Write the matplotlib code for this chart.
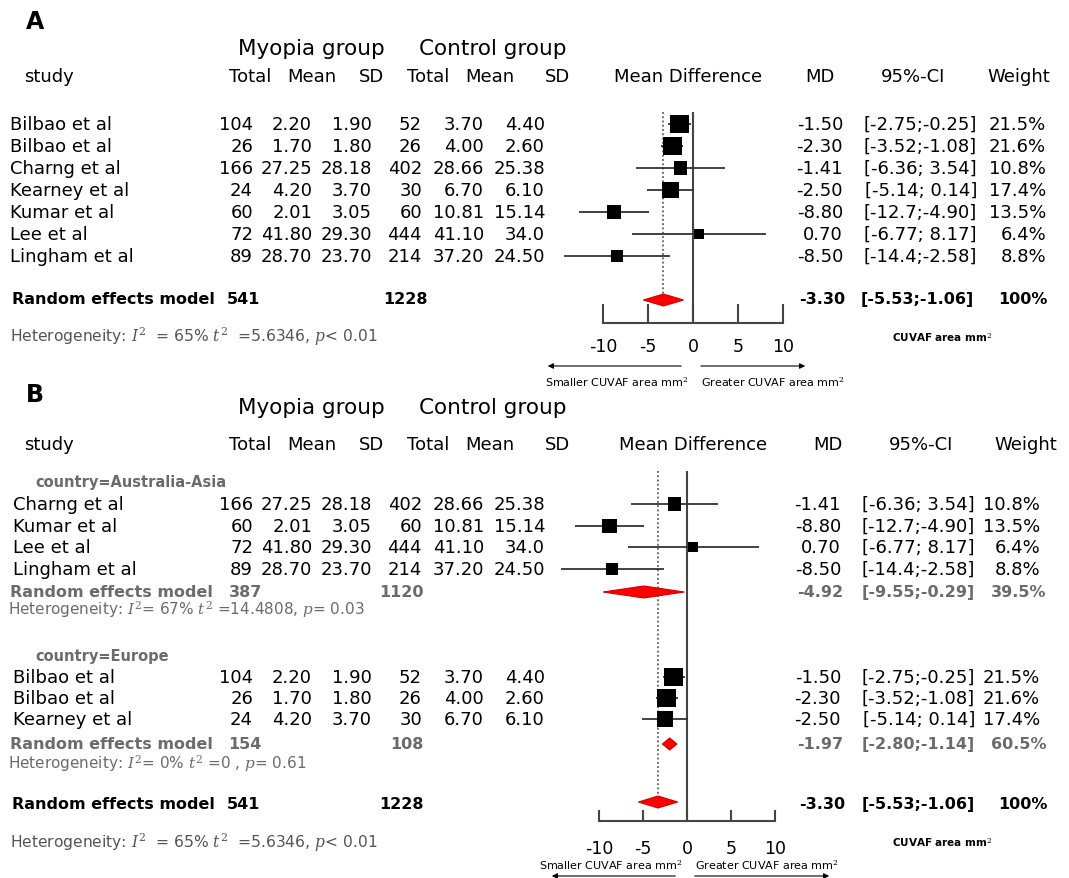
import matplotlib
matplotlib.use("Agg")
import matplotlib.pyplot as plt
from matplotlib.patches import Polygon

W, H, DPI = 1069, 879, 100
plt.rcParams['font.family'] = ['DejaVu Sans']
plt.rcParams['mathtext.fontset'] = 'dejavuserif'

# ---------------- data ----------------
studies = ["Bilbao et al", "Bilbao et al", "Charng et al", "Kearney et al",
           "Kumar et al", "Lee et al", "Lingham et al"]
country = ["Europe", "Europe", "Australia-Asia", "Europe",
           "Australia-Asia", "Australia-Asia", "Australia-Asia"]
myo_total = ["104", "26", "166", "24", "60", "72", "89"]
myo_mean = ["2.20", "1.70", "27.25", "4.20", "2.01", "41.80", "28.70"]
myo_sd = ["1.90", "1.80", "28.18", "3.70", "3.05", "29.30", "23.70"]
ctl_total = ["52", "26", "402", "30", "60", "444", "214"]
ctl_mean = ["3.70", "4.00", "28.66", "6.70", "10.81", "41.10", "37.20"]
ctl_sd = ["4.40", "2.60", "25.38", "6.10", "15.14", "34.0", "24.50"]
md = [-1.50, -2.30, -1.41, -2.50, -8.80, 0.70, -8.50]
ci_lo = [-2.75, -3.52, -6.36, -5.14, -12.7, -6.77, -14.4]
ci_hi = [-0.25, -1.08, 3.54, 0.14, -4.90, 8.17, -2.58]
weight = [21.5, 21.6, 10.8, 17.4, 13.5, 6.4, 8.8]

sub_names = ["Australia-Asia", "Europe"]
sub_n1 = ["387", "154"]
sub_n2 = ["1120", "108"]
sub_md = [-4.92, -1.97]
sub_lo = [-9.55, -2.80]
sub_hi = [-0.29, -1.14]
sub_weight = ["39.5%", "60.5%"]
sub_i2 = ["67%", "0%"]
sub_tau2 = ["14.4808", "0 "]
sub_p = ["= 0.03", "= 0.61"]

all_n1, all_n2 = "541", "1228"
all_md, all_lo, all_hi = -3.30, -5.53, -1.06
all_weight = "100%"
all_i2, all_tau2, all_p = "65%", "5.6346", "< 0.01"

x_ticks = [-10, -5, 0, 5, 10]
axis_label = "CUVAF area mm$^2$"
left_label = "Smaller CUVAF area mm$^2$"
right_label = "Greater CUVAF area mm$^2$"


def fmt_ci(v):
    s = f"{v:.2f}"
    if len(s.lstrip('-')) > 4:
        s = f"{v:.1f}"
    return s if v < 0 else " " + s


def ci_text(lo, hi):
    return f"[{fmt_ci(lo)};{fmt_ci(hi)}]"


# ---------------- figure ----------------
fig = plt.figure(figsize=(W / DPI, H / DPI), dpi=DPI)
bg = fig.add_axes([0, 0, 1, 1])
bg.set_xlim(0, W)
bg.set_ylim(H, 0)
bg.axis('off')

GRAY_HET = '#555555'
GRAY_SUB = '#6b6b6b'
ROW_FS = 13
HDR_FS = 13
SUM_FS = 11.5


def txt(x, y, s, ha='left', size=ROW_FS, weight='normal', color='black'):
    bg.text(x, y, s, ha=ha, va='center', fontsize=size, fontweight=weight, color=color)


def forest_ax(zero_px, ppu):
    ax = fig.add_axes([0, 0, 1, 1], frameon=False)
    ax.set_xlim((0 - zero_px) / ppu, (W - zero_px) / ppu)
    ax.set_ylim(H, 0)
    ax.axis('off')
    return ax


def headers(y_group, y_hdr, rc):
    txt(311, y_group, "Myopia group", ha='center', size=15.5)
    txt(493, y_group, "Control group", ha='center', size=15.5)
    txt(24, y_hdr, "study", size=HDR_FS)
    for x, s in zip([271, 336, 384, 449, 514, 570],
                    ["Total", "Mean", "SD", "Total", "Mean", "SD"]):
        txt(x, y_hdr, s, ha='right', size=HDR_FS)
    txt(rc['mdh'], y_hdr, "Mean Difference", ha='center', size=HDR_FS)
    txt(rc['mdc'], y_hdr, "MD", ha='center', size=HDR_FS)
    txt(rc['cic'], y_hdr, "95%-CI", ha='center', size=HDR_FS)
    txt(rc['wr_h'], y_hdr, "Weight", ha='right', size=HDR_FS)


COLS = [253, 312, 372, 422, 484, 545]


def study_row(i, y, x_name, rc):
    txt(x_name, y, studies[i])
    for x, col in zip(COLS, [myo_total, myo_mean, myo_sd, ctl_total, ctl_mean, ctl_sd]):
        txt(x, y, col[i], ha='right')
    txt(rc['mdr'], y, f"{md[i]:.2f}", ha='right')
    txt(rc['cir'], y, ci_text(ci_lo[i], ci_hi[i]), ha='right')
    txt(rc['wr'], y, f"{weight[i]:.1f}%", ha='right')


def draw_study_marks(ax, idx, ys):
    ax.hlines(ys, [ci_lo[i] for i in idx], [ci_hi[i] for i in idx],
              color='#333333', lw=1.3, zorder=2)
    ax.scatter([md[i] for i in idx], ys, s=[8.4 * weight[i] for i in idx],
               marker='s', color='black', zorder=3, linewidths=0)


def diamond(ax, m, lo, hi, y, h=6):
    ax.add_patch(Polygon([[lo, y], [m, y - h], [hi, y], [m, y + h]],
                         closed=True, fc='red', ec='#d00000', lw=0.8, zorder=4))


def axis_block(ax, top, base, tick_len, lab_y, diam_y):
    ax.vlines(0, top, base, color='#444444', lw=1.5, zorder=1)
    ax.vlines(all_md, top, diam_y - 6, color='#444444', lw=1.1,
              linestyles=(0, (1.2, 1.6)), zorder=1)
    ax.plot([x_ticks[0], x_ticks[-1]], [base, base], color='#444444', lw=1.5)
    ax.vlines(x_ticks, base - tick_len, base, color='#444444', lw=1.5)
    for t in x_ticks:
        ax.text(t, lab_y, str(t), ha='center', va='center', fontsize=12.5)


def arrows(y_arrow, y_text, lx, rx, zero_px):
    kw = dict(arrowstyle='-|>', lw=0.8, color='black', mutation_scale=8)
    bg.annotate('', xy=(lx, y_arrow), xytext=(zero_px - 9, y_arrow), arrowprops=kw)
    bg.annotate('', xy=(rx, y_arrow), xytext=(zero_px + 5, y_arrow), arrowprops=kw)
    bg.text(zero_px - 5, y_text, left_label, ha='right', va='center', fontsize=8)
    bg.text(zero_px + 8, y_text, right_label, ha='left', va='center', fontsize=8)


def het(i2, tau2, p, spaced=True):
    if spaced:
        return rf"Heterogeneity: $I^2$  = {i2} $t^2$  ={tau2}, $p${p}"
    return rf"Heterogeneity: $I^2$= {i2} $t^2$ ={tau2}, $p${p}"


# ================= Panel A =================
txt(35, 22, "A", ha='center', size=17, weight='bold')
rcA = dict(mdh=688, mdc=820, cic=913, wr_h=1050, mdr=843, cir=977, wr=1046)
headers(49, 77, rcA)
axA = forest_ax(693, 8.97)
yA = [125 + 22 * k for k in range(len(studies))]
for k in range(len(studies)):
    study_row(k, yA[k], 10, rcA)
draw_study_marks(axA, list(range(len(studies))), yA)

yA_tot = 300
txt(12, yA_tot, "Random effects model", size=SUM_FS, weight='bold')
txt(260, yA_tot, all_n1, ha='right', size=SUM_FS, weight='bold')
txt(428, yA_tot, all_n2, ha='right', size=SUM_FS, weight='bold')
txt(rcA['mdr'] + 2, yA_tot, f"{all_md:.2f}", ha='right', size=SUM_FS, weight='bold')
txt(rcA['cir'] - 3, yA_tot, ci_text(all_lo, all_hi), ha='right', size=SUM_FS, weight='bold')
txt(rcA['wr'] + 2, yA_tot, all_weight, ha='right', size=SUM_FS, weight='bold')
diamond(axA, all_md, all_lo, all_hi, yA_tot + 1)
axis_block(axA, 113, 324, 19, 347, yA_tot + 1)
txt(10, 337, het(all_i2, all_tau2, all_p), size=11.2, color=GRAY_HET)
txt(942, 338, axis_label, ha='center', size=7.5, weight='bold')
arrows(367, 382, 545, 808, 693)

# ================= Panel B =================
txt(35, 395, "B", ha='center', size=17, weight='bold')
rcB = dict(mdh=693, mdc=828, cic=921, wr_h=1057, mdr=841, cir=975, wr=1040)
headers(408, 445, rcB)
axB = forest_ax(687, 8.78)

sub_layout = [dict(lab=483, rows=[505, 527, 548, 570], tot=593, het=610),
              dict(lab=657, rows=[678, 699, 720], tot=745, het=764)]
for g, name in enumerate(sub_names):
    L = sub_layout[g]
    idx = [i for i in range(len(studies)) if country[i] == name]
    if name == "Australia-Asia":
        idx = sorted(idx, key=lambda i: studies[i])
    txt(35, L['lab'], f"country={name}", size=10.5, weight='bold', color=GRAY_SUB)
    for i, y in zip(idx, L['rows']):
        study_row(i, y, 13, rcB)
    draw_study_marks(axB, idx, L['rows'])
    txt(10, L['tot'], "Random effects model", size=SUM_FS, weight='bold', color=GRAY_SUB)
    txt(262, L['tot'], sub_n1[g], ha='right', size=SUM_FS, weight='bold', color=GRAY_SUB)
    txt(424, L['tot'], sub_n2[g], ha='right', size=SUM_FS, weight='bold', color=GRAY_SUB)
    txt(rcB['mdr'] + 2, L['tot'], f"{sub_md[g]:.2f}", ha='right', size=SUM_FS, weight='bold', color=GRAY_SUB)
    txt(rcB['cir'], L['tot'], ci_text(sub_lo[g], sub_hi[g]), ha='right', size=SUM_FS, weight='bold', color=GRAY_SUB)
    txt(rcB['wr'] + 6, L['tot'], sub_weight[g], ha='right', size=SUM_FS, weight='bold', color=GRAY_SUB)
    diamond(axB, sub_md[g], sub_lo[g], sub_hi[g], L['tot'])
    txt(8, L['het'], het(sub_i2[g], sub_tau2[g], sub_p[g], spaced=False), size=11, color=GRAY_SUB)

yB_tot = 805
txt(12, yB_tot, "Random effects model", size=SUM_FS, weight='bold')
txt(260, yB_tot, all_n1, ha='right', size=SUM_FS, weight='bold')
txt(424, yB_tot, all_n2, ha='right', size=SUM_FS, weight='bold')
txt(rcB['mdr'] + 4, yB_tot, f"{all_md:.2f}", ha='right', size=SUM_FS, weight='bold')
txt(rcB['cir'], yB_tot, ci_text(all_lo, all_hi), ha='right', size=SUM_FS, weight='bold')
txt(rcB['wr'] + 8, yB_tot, all_weight, ha='right', size=SUM_FS, weight='bold')
diamond(axB, all_md, all_lo, all_hi, yB_tot - 2)
axis_block(axB, 472, 822, 11, 849, yB_tot - 2)
txt(10, 843, het(all_i2, all_tau2, all_p), size=11.2, color=GRAY_HET)
txt(942, 843, axis_label, ha='center', size=7.5, weight='bold')
arrows(877, 865, 549, 832, 687)

fig.savefig("out.png", dpi=DPI)
